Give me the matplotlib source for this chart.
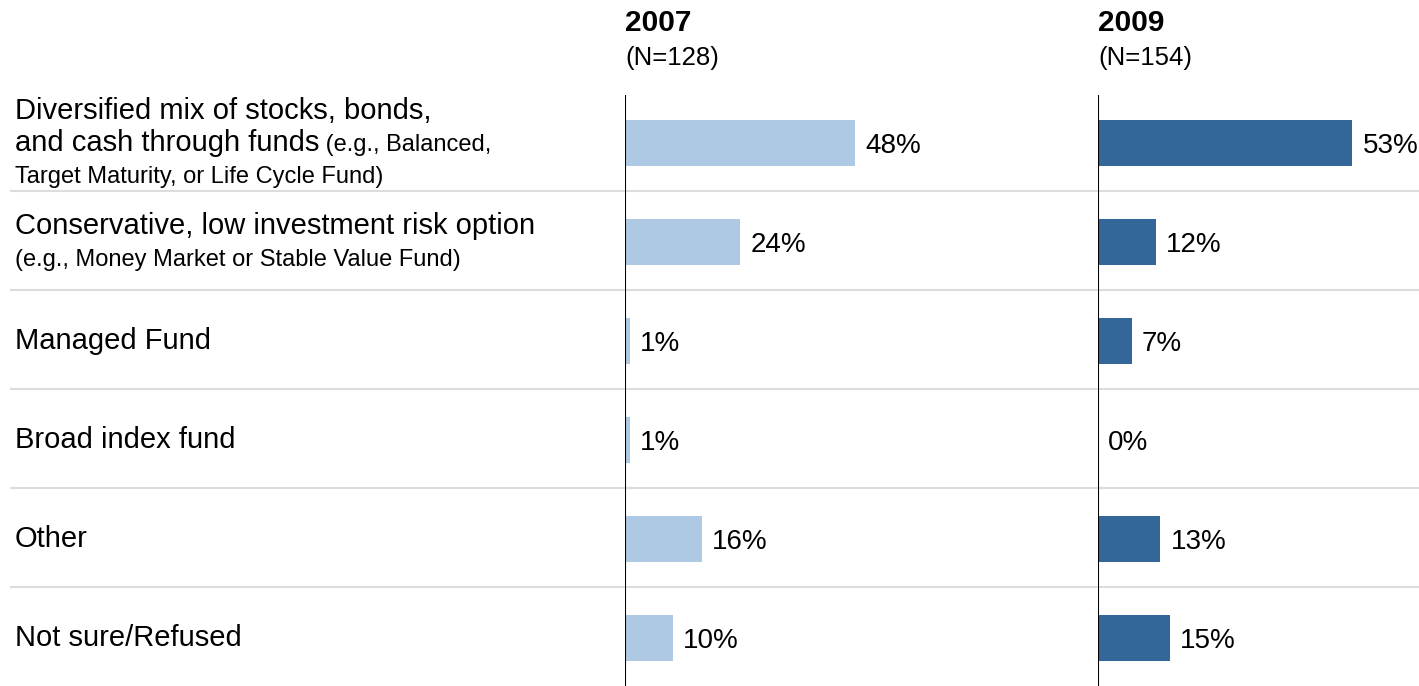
import matplotlib
matplotlib.use("Agg")
import matplotlib.pyplot as plt

plt.rcParams["font.family"] = ["Liberation Sans", "DejaVu Sans"]

# data
categories = ["Diversified mix", "Conservative", "Managed Fund",
              "Broad index fund", "Other", "Not sure/Refused"]
vals_2007 = [48, 24, 1, 1, 16, 10]
vals_2009 = [53, 12, 7, 0, 13, 15]
years = ["2007", "2009"]
ns = ["(N=128)", "(N=154)"]

# label lines: (main text, small text) per line, per category
label_lines = [
    [("Diversified mix of stocks, bonds,", ""),
     ("and cash through funds", " (e.g., Balanced,"),
     ("", "Target Maturity, or Life Cycle Fund)")],
    [("Conservative, low investment risk option", ""),
     ("", "(e.g., Money Market or Stable Value Fund)")],
    [("Managed Fund", "")],
    [("Broad index fund", "")],
    [("Other", "")],
    [("Not sure/Refused", "")],
]

W, H = 1419, 686
light = "#adc9e3"
dark = "#336699"
BIG = 21
SMALL = 17
PCT = 20

fig = plt.figure(figsize=(W / 100, H / 100), dpi=100)

# background axes for labels and separator lines (x in pixels, y in rows)
bg = fig.add_axes([0, 0, 1, 1])
bg.set_xlim(0, W)
bg.set_ylim(5.485, -1.444)
bg.axis("off")
for i in range(len(categories) - 1):
    bg.plot([10, W], [i + 0.49, i + 0.49], color="#dcdcdc", lw=1.5,
            solid_capstyle="butt")

fig.canvas.draw()
r = fig.canvas.get_renderer()
for i, lines in enumerate(label_lines):
    n = len(lines)
    if n == 3:
        offs = [-0.32, 0.0, 0.32]
    elif n == 2:
        offs = [-0.16, 0.16]
    else:
        offs = [0.0]
    for (main, small), off in zip(lines, offs):
        y = i + off
        x = 15
        if main:
            t = bg.text(x, y, main, fontsize=BIG, va="center", ha="left")
            bb = t.get_window_extent(renderer=r)
            x = bg.transData.inverted().transform((bb.x1, 0))[0]
        if small:
            bg.text(x, y + 0.02, small, fontsize=SMALL, va="center", ha="left")

# bar panels
px_per_pct = 4.8
panels = [(625, vals_2007, light), (1098, vals_2009, dark)]
ytop_px = 95
for (x0, vals, col), yr, n in zip(panels, years, ns):
    width_px = W - x0 if x0 > 1000 else 470
    ax = fig.add_axes([x0 / W, 0, width_px / W, (H - ytop_px) / H])
    ax.set_xlim(0, width_px / px_per_pct)
    ax.set_ylim(5.485, -0.485)
    ax.barh(range(len(vals)), vals, height=0.47, color=col, linewidth=0)
    for j, v in enumerate(vals):
        ax.text(v + 2.1, j + 0.03, f"{v}%", fontsize=PCT, va="center", ha="left")
    ax.axvline(0, color="black", lw=1.5)
    ax.axis("off")
    fig.text(x0 / W, 1 - 23 / H, yr, fontsize=21.5, fontweight="bold",
             va="center", ha="left")
    fig.text(x0 / W, 1 - 58 / H, n, fontsize=18.5, va="center", ha="left")

fig.savefig("out.png", dpi=100)
